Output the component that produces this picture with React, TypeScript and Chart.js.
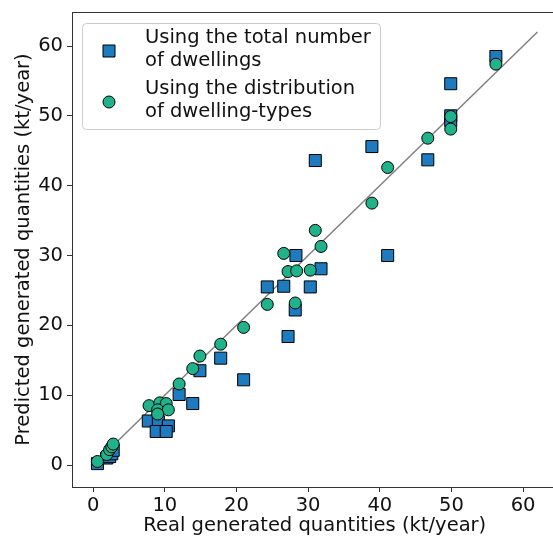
import React, { useEffect, useRef } from "react";
import { Chart, registerables } from "chart.js";

Chart.register(...registerables);

// "Using the total number of dwellings" (squares)
const totalReal = [0.6, 1.9, 2.3, 2.6, 2.8, 7.7, 9.1, 10.5, 8.8, 10.2, 12.0, 13.9, 14.9, 17.8, 21.0, 24.3, 26.6, 30.3, 31.8, 28.3, 28.2, 27.2, 31.0, 38.9, 46.7, 41.1, 49.9, 49.9, 49.9, 56.2];
const totalPred = [0.2, 1.0, 1.2, 1.6, 2.1, 6.3, 6.2, 5.6, 4.8, 4.8, 10.1, 8.8, 13.5, 15.3, 12.2, 25.5, 25.6, 25.5, 28.1, 30.0, 22.2, 18.4, 43.6, 45.6, 43.7, 30.0, 54.6, 50.0, 49.3, 58.5];

// "Using the distribution of dwelling-types" (circles)
const typeReal = [0.6, 1.9, 2.3, 2.6, 2.8, 7.8, 9.3, 10.2, 9.0, 10.5, 9.0, 12.0, 13.9, 14.9, 17.8, 21.0, 24.3, 28.2, 27.2, 28.4, 30.3, 26.6, 31.8, 31.0, 38.9, 41.1, 46.7, 49.9, 49.9, 56.2];
const typePred = [0.5, 1.5, 2.2, 2.6, 3.0, 8.5, 8.9, 8.8, 7.9, 7.9, 7.3, 11.6, 13.8, 15.6, 17.3, 19.7, 23.0, 23.2, 27.7, 27.8, 27.9, 30.3, 31.3, 33.6, 37.5, 42.6, 46.8, 49.9, 48.1, 57.4];

// identity line
const lineVals = [0, 62];

const xTicks = [0, 10, 20, 30, 40, 50, 60];
const yTicks = [0, 10, 20, 30, 40, 50, 60];

const legendLabels = [
  ["Using the total number", "of dwellings"],
  ["Using the distribution", "of dwelling-types"],
];
const xTitle = "Real generated quantities (kt/year)";
const yTitle = "Predicted generated quantities (kt/year)";

const BLUE = "#1f7bbf";
const GREEN = "#20b38b";
const FONT = '"DejaVu Sans", sans-serif';
const FS = 19.5;
const CW = 567;
const CH = 538;

const extrasPlugin = {
  id: "extras",
  afterDatasetsDraw(chart: any) {
    const ctx = chart.ctx;
    const a = chart.chartArea;
    ctx.save();
    // top spine
    ctx.strokeStyle = "#333";
    ctx.lineWidth = 1;
    ctx.beginPath();
    ctx.moveTo(a.left, a.top + 0.5);
    ctx.lineTo(a.right, a.top + 0.5);
    ctx.stroke();

    // legend
    const lx = 82, ly = 23, lw = 298, lh = 106;
    ctx.beginPath();
    (ctx as any).roundRect(lx + 0.5, ly + 0.5, lw, lh, 4);
    ctx.fillStyle = "rgba(255,255,255,0.8)";
    ctx.fill();
    ctx.strokeStyle = "#cccccc";
    ctx.stroke();

    ctx.fillStyle = BLUE;
    ctx.strokeStyle = "#000";
    ctx.lineWidth = 1;
    ctx.beginPath();
    ctx.rect(103, 45, 12, 12);
    ctx.fill();
    ctx.stroke();
    ctx.fillStyle = GREEN;
    ctx.beginPath();
    ctx.arc(109, 102, 6, 0, Math.PI * 2);
    ctx.fill();
    ctx.stroke();

    ctx.fillStyle = "#111";
    ctx.font = `${FS}px ${FONT}`;
    ctx.textBaseline = "middle";
    ctx.textAlign = "left";
    ctx.fillText(legendLabels[0][0], 145, 38);
    ctx.fillText(legendLabels[0][1], 145, 61);
    ctx.fillText(legendLabels[1][0], 145, 89);
    ctx.fillText(legendLabels[1][1], 145, 112);
    ctx.restore();
  },
};

const zeroPad = (s: any) => {
  s.paddingLeft = 0;
  s.paddingRight = 0;
  s.paddingTop = 0;
  s.paddingBottom = 0;
};

export default function App() {
  const ref = useRef<HTMLCanvasElement>(null);

  useEffect(() => {
    if (!ref.current) return;
    const squares = totalReal.map((x, i) => ({ x, y: totalPred[i] }));
    const circles = typeReal.map((x, i) => ({ x, y: typePred[i] }));
    const line = lineVals.map((v) => ({ x: v, y: v }));

    const chart = new Chart(ref.current, {
      type: "scatter",
      data: {
        datasets: [
          { label: "identity", data: line, showLine: true, borderColor: "#808080", borderWidth: 1.5, pointRadius: 0, order: 3 },
          { label: legendLabels[0].join(" "), data: squares, pointStyle: "rect", pointRadius: 8.5, backgroundColor: BLUE, borderColor: "#000", borderWidth: 1, order: 2 },
          { label: legendLabels[1].join(" "), data: circles, pointStyle: "circle", pointRadius: 6, backgroundColor: GREEN, borderColor: "#000", borderWidth: 1, order: 1 },
        ],
      },
      options: {
        animation: false,
        responsive: false,
        devicePixelRatio: 1,
        layout: { padding: { top: 12, left: 0, right: 3, bottom: 0 } },
        plugins: { legend: { display: false }, tooltip: { enabled: false } },
        scales: {
          x: {
            type: "linear",
            min: -2.95,
            max: 64.8,
            afterBuildTicks: (s: any) => { s.ticks = xTicks.map((v) => ({ value: v })); },
            afterFit: (s: any) => { s.height = 51; zeroPad(s); },
            grid: { drawOnChartArea: false, drawTicks: true, tickLength: 5, tickColor: "#333" },
            border: { display: true, color: "#333", width: 1 },
            ticks: { color: "#111", font: { family: FONT, size: FS }, padding: 2, maxRotation: 0 },
            title: { display: true, text: xTitle, color: "#111", font: { family: FONT, size: FS }, padding: { top: 0, bottom: 0 } },
          },
          y: {
            type: "linear",
            min: -3.15,
            max: 64.87,
            afterBuildTicks: (s: any) => { s.ticks = yTicks.map((v) => ({ value: v })); },
            afterFit: (s: any) => { s.width = 72; zeroPad(s); },
            grid: { drawOnChartArea: false, drawTicks: true, tickLength: 5, tickColor: "#333" },
            border: { display: true, color: "#333", width: 1 },
            ticks: { color: "#111", font: { family: FONT, size: FS }, padding: 4 },
            title: { display: true, text: yTitle, color: "#111", font: { family: FONT, size: FS }, padding: { top: 12, bottom: 0 } },
          },
        },
      },
      plugins: [extrasPlugin],
    });
    return () => chart.destroy();
  }, []);

  return (
    <div style={{ position: "absolute", left: 0, top: 0, width: 553, height: 536, overflow: "hidden", background: "#fff" }}>
      <div style={{ width: CW, height: CH }}>
        <canvas ref={ref} width={CW} height={CH} style={{ width: CW, height: CH, display: "block" }} />
      </div>
    </div>
  );
}
